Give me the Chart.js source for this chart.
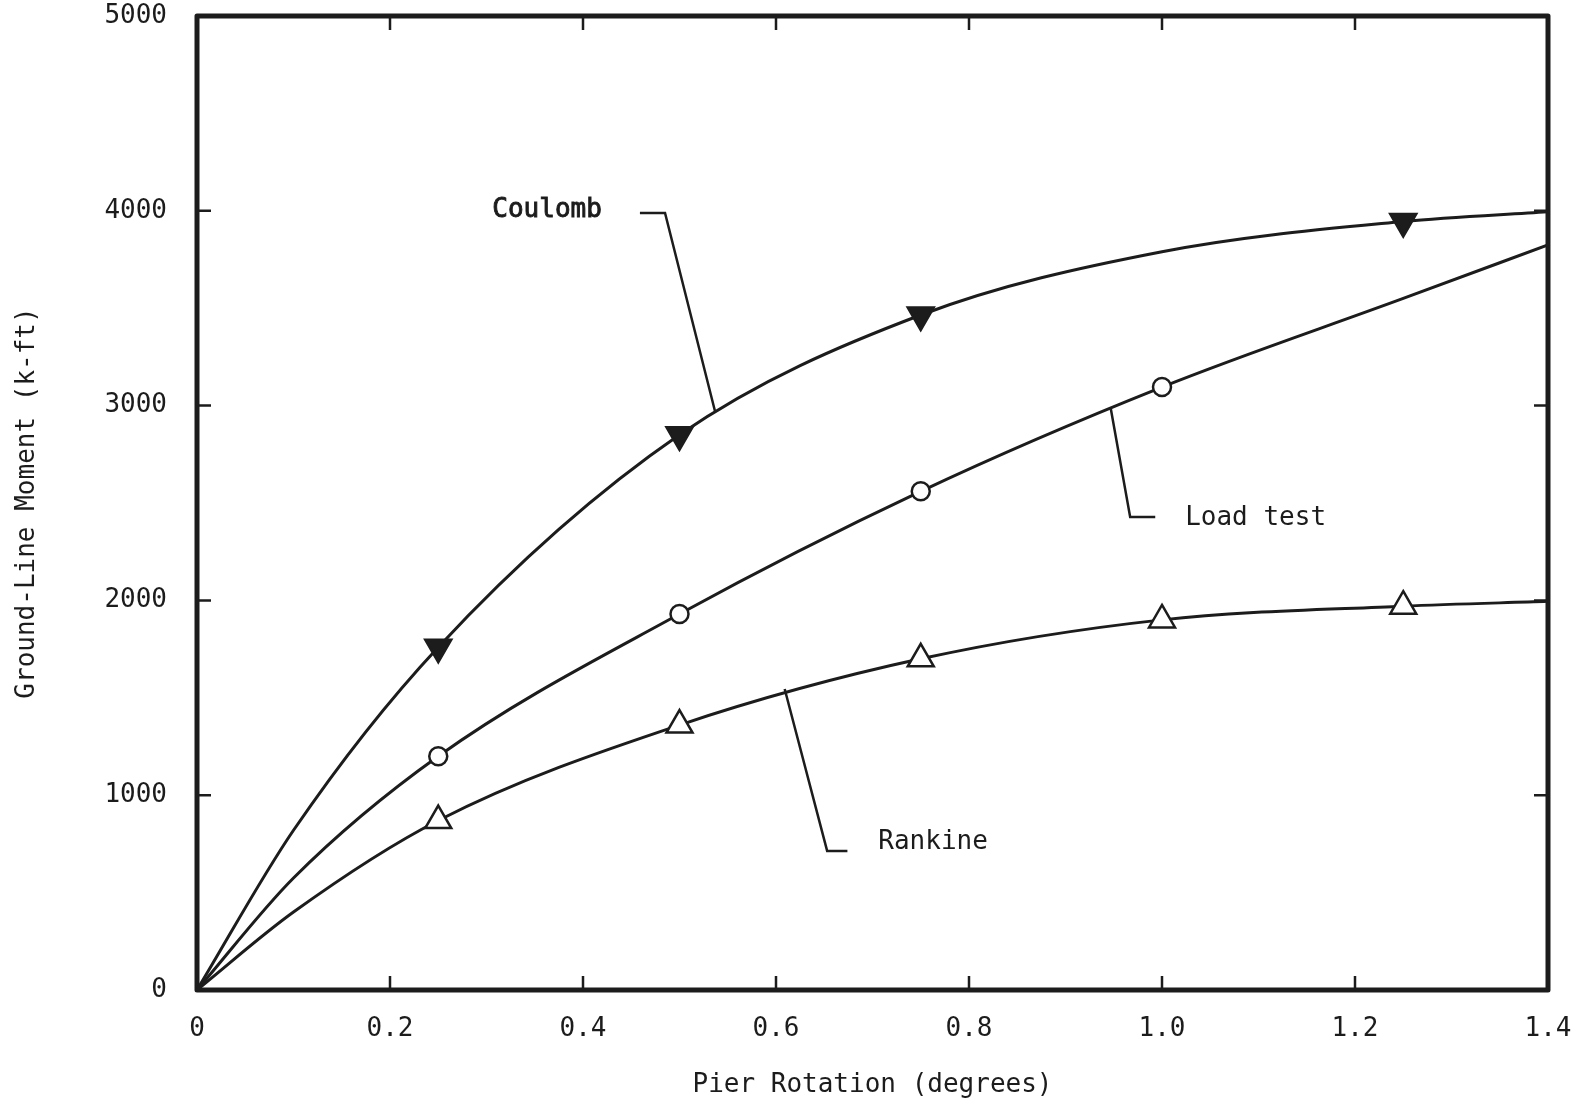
<!DOCTYPE html>
<html lang="en">
<head>
<meta charset="UTF-8">
<title>Ground-Line Moment vs Pier Rotation</title>
<script src="https://cdn.jsdelivr.net/npm/chart.js"></script>
<style>
  html, body { margin: 0; padding: 0; background: #fff; }
  #wrap { width: 1578px; height: 1108px; }
</style>
</head>
<body>
<div id="wrap"><canvas id="momentChart"></canvas></div>
<script>
// pier rotation (degrees) at which each curve is read
const rotation = [0, 0.1, 0.25, 0.5, 0.75, 1.0, 1.25, 1.4];

// ground-line moment (k-ft)
const coulomb  = [0, 820, 1760, 2850, 3465, 3790, 3945, 3995];
const loadTest = [0, 575, 1200, 1930, 2560, 3095, 3550, 3825];
const rankine  = [0, 400, 870, 1360, 1700, 1900, 1970, 1995];

// rotations that carry a plotted symbol
const coulombMarks  = [0.25, 0.5, 0.75, 1.25];
const loadTestMarks = [0.25, 0.5, 0.75, 1.0];
const rankineMarks  = [0.25, 0.5, 0.75, 1.0, 1.25];

const xTicks = [0, 0.2, 0.4, 0.6, 0.8, 1.0, 1.2, 1.4];
const yTicks = [0, 1000, 2000, 3000, 4000, 5000];

// curve labels with their leader lines, in data units
const callouts = [
  { text: 'Coulomb',   at: [0.306, 4004], path: [[0.459, 3989], [0.485, 3989], [0.537, 2967]], heavy: true },
  { text: 'Load test', at: [1.024, 2423], path: [[0.947, 2983], [0.967, 2428], [0.993, 2428]] },
  { text: 'Rankine',   at: [0.706, 760],  path: [[0.609, 1545], [0.653, 714], [0.674, 714]] }
];

const INK = '#1c1c1c';
const FONT = "'DejaVu Sans Mono', monospace";

function points(ys) {
  return rotation.map((x, i) => ({ x: x, y: ys[i] }));
}

function markRadius(marks, r) {
  return ctx => (ctx.raw && marks.includes(ctx.raw.x)) ? r : 0;
}

function curve(label, ys, marks, style, r, fill, rot) {
  return {
    label: label,
    data: points(ys),
    showLine: true,
    borderColor: INK,
    borderWidth: 3,
    cubicInterpolationMode: 'monotone',
    pointStyle: style,
    pointRotation: rot || 0,
    pointRadius: markRadius(marks, r),
    pointHoverRadius: markRadius(marks, r),
    pointBackgroundColor: fill,
    pointBorderColor: INK,
    pointBorderWidth: 2.5
  };
}

// heavy frame, inward ticks on all four sides, and the curve callouts
const framePlugin = {
  id: 'frame',
  afterDatasetsDraw(chart) {
    const { ctx, chartArea: a, scales: { x, y } } = chart;
    const len = 14;
    ctx.save();
    ctx.strokeStyle = INK;
    ctx.lineWidth = 2.5;
    ctx.beginPath();
    xTicks.slice(1, -1).forEach(v => {
      const px = x.getPixelForValue(v);
      ctx.moveTo(px, a.bottom); ctx.lineTo(px, a.bottom - len);
      ctx.moveTo(px, a.top);    ctx.lineTo(px, a.top + len);
    });
    yTicks.slice(1, -1).forEach(v => {
      const py = y.getPixelForValue(v);
      ctx.moveTo(a.left, py);  ctx.lineTo(a.left + len, py);
      ctx.moveTo(a.right, py); ctx.lineTo(a.right - len, py);
    });
    ctx.stroke();

    ctx.lineWidth = 5;
    ctx.lineJoin = 'round';
    ctx.strokeRect(a.left, a.top, a.right - a.left, a.bottom - a.top);

    ctx.lineWidth = 2.5;
    ctx.lineJoin = 'miter';
    ctx.fillStyle = INK;
    ctx.textBaseline = 'middle';
    ctx.textAlign = 'left';
    ctx.font = '26px ' + FONT;
    callouts.forEach(c => {
      ctx.beginPath();
      c.path.forEach((p, i) => {
        const px = x.getPixelForValue(p[0]), py = y.getPixelForValue(p[1]);
        if (i === 0) ctx.moveTo(px, py); else ctx.lineTo(px, py);
      });
      ctx.stroke();
      const tx = x.getPixelForValue(c.at[0]), ty = y.getPixelForValue(c.at[1]);
      ctx.fillText(c.text, tx, ty);
      if (c.heavy) {
        ctx.lineWidth = 0.9;
        ctx.strokeText(c.text, tx, ty);
        ctx.lineWidth = 2.5;
      }
    });
    ctx.restore();
  }
};

Chart.defaults.font.family = FONT;
Chart.defaults.color = INK;

new Chart(document.getElementById('momentChart'), {
  type: 'scatter',
  data: {
    datasets: [
      curve('Coulomb', coulomb, coulombMarks, 'triangle', 15, INK, 180),
      curve('Load test', loadTest, loadTestMarks, 'circle', 9, '#fff'),
      curve('Rankine', rankine, rankineMarks, 'triangle', 15, '#fff')
    ]
  },
  options: {
    responsive: true,
    maintainAspectRatio: false,
    animation: false,
    layout: { padding: { top: 16, right: 30, left: 0, bottom: 0 } },
    plugins: {
      legend: { display: false },
      tooltip: { enabled: false }
    },
    scales: {
      x: {
        type: 'linear',
        min: 0,
        max: 1.4,
        afterBuildTicks: s => { s.ticks = xTicks.map(v => ({ value: v })); },
        afterFit: s => { s.height = 118; s.paddingLeft = 0; s.paddingRight = 0; },
        grid: { display: false },
        border: { display: false },
        ticks: {
          padding: 16,
          maxRotation: 0,
          font: { size: 26 },
          callback: v => v === 0 ? '0' : v.toFixed(1)
        },
        title: {
          display: true,
          text: 'Pier Rotation (degrees)',
          font: { size: 26 },
          padding: { top: 0, bottom: 7 }
        }
      },
      y: {
        type: 'linear',
        min: 0,
        max: 5000,
        afterBuildTicks: s => { s.ticks = yTicks.map(v => ({ value: v })); },
        afterFit: s => { s.width = 197; s.paddingTop = 0; s.paddingBottom = 0; },
        grid: { display: false },
        border: { display: false },
        ticks: {
          padding: 22,
          font: { size: 26 },
          callback: v => String(v)
        },
        title: {
          display: true,
          text: 'Ground-Line Moment (k-ft)',
          font: { size: 26 },
          padding: { top: 12, bottom: 0 }
        }
      }
    }
  },
  plugins: [framePlugin]
});
</script>
</body>
</html>
